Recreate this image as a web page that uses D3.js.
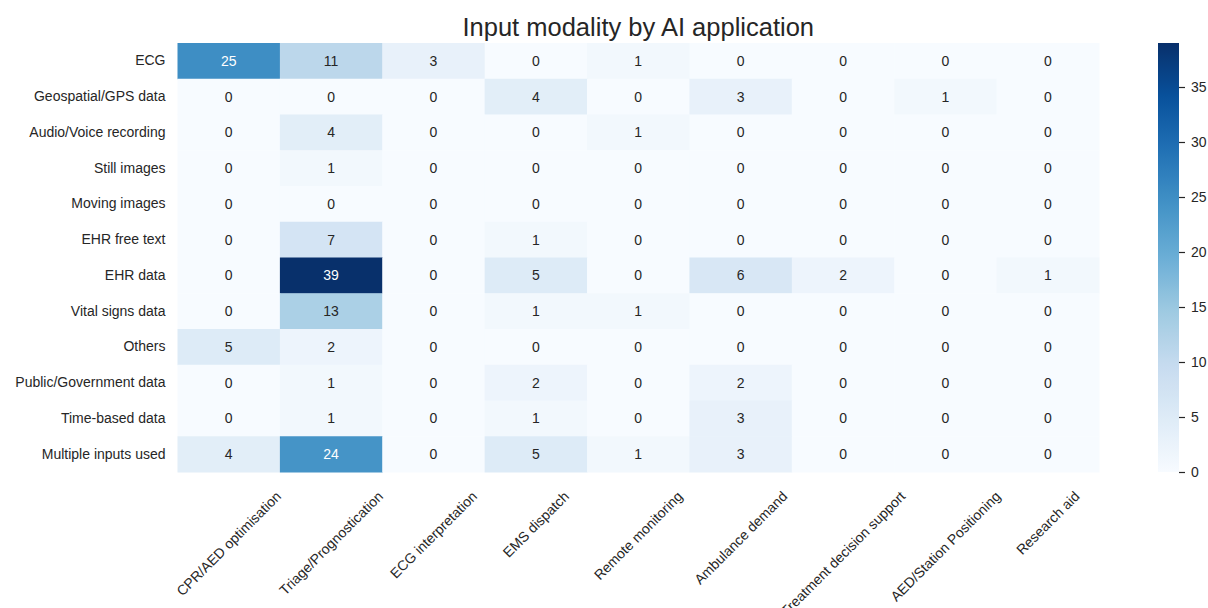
<!DOCTYPE html>
<html>
<head>
<meta charset="utf-8">
<script src="https://cdn.jsdelivr.net/npm/d3@7"></script>
<style>
  html, body { margin: 0; padding: 0; background: #ffffff; }
  svg text { font-family: "Liberation Sans", Arial, sans-serif; }
</style>
</head>
<body>
<svg id="chart" width="1208" height="608"></svg>
<script>
const title = "Input modality by AI application";
const applications = ["CPR/AED optimisation","Triage/Prognostication","ECG interpretation","EMS dispatch","Remote monitoring","Ambulance demand","Treatment decision support","AED/Station Positioning","Research aid"];
const modalities = ["ECG","Geospatial/GPS data","Audio/Voice recording","Still images","Moving images","EHR free text","EHR data","Vital signs data","Others","Public/Government data","Time-based data","Multiple inputs used"];
const rowECG        = [25,11,3,0,1,0,0,0,0];
const rowGeo        = [0,0,0,4,0,3,0,1,0];
const rowAudio      = [0,4,0,0,1,0,0,0,0];
const rowStill      = [0,1,0,0,0,0,0,0,0];
const rowMoving     = [0,0,0,0,0,0,0,0,0];
const rowEHRText    = [0,7,0,1,0,0,0,0,0];
const rowEHRData    = [0,39,0,5,0,6,2,0,1];
const rowVital      = [0,13,0,1,1,0,0,0,0];
const rowOthers     = [5,2,0,0,0,0,0,0,0];
const rowPublic     = [0,1,0,2,0,2,0,0,0];
const rowTime       = [0,1,0,1,0,3,0,0,0];
const rowMultiple   = [4,24,0,5,1,3,0,0,0];
const colorbarTicks = [0,5,10,15,20,25,30,35];

const matrix = [rowECG,rowGeo,rowAudio,rowStill,rowMoving,rowEHRText,rowEHRData,rowVital,rowOthers,rowPublic,rowTime,rowMultiple];
const cells = [];
matrix.forEach((r,i)=>r.forEach((v,j)=>cells.push({row:modalities[i], col:applications[j], v})));

const svg = d3.select("#chart");
const mLeft = 177.5, mRight = 1099, mTop = 43, mBottom = 472;
const textColor = "#262626";
const fontSize = 14;

const x = d3.scaleBand().domain(applications).range([mLeft,mRight]);
const y = d3.scaleBand().domain(modalities).range([mTop,mBottom]);
const vmax = d3.max(cells, d=>d.v), vmin = d3.min(cells, d=>d.v);
const blues = ["#f7fbff","#deebf7","#c6dbef","#9ecae1","#6baed6","#4292c6","#2171b5","#08519c","#08306b"];
const interp = d3.piecewise(d3.interpolateRgb, blues);
const color = v => interp((v - vmin)/(vmax - vmin));

function lum(c){
  const rgb = d3.rgb(c);
  const f = u => { u/=255; return u <= 0.03928 ? u/12.92 : Math.pow((u+0.055)/1.055, 2.4); };
  return 0.2126*f(rgb.r)+0.7152*f(rgb.g)+0.0722*f(rgb.b);
}

// cells
svg.append("g").selectAll("rect").data(cells).join("rect")
  .attr("x", d=>x(d.col)).attr("y", d=>y(d.row))
  .attr("width", x.bandwidth()+0.5).attr("height", y.bandwidth()+0.5)
  .attr("fill", d=>color(d.v));

svg.append("g").selectAll("text").data(cells).join("text")
  .attr("x", d=>x(d.col)+x.bandwidth()/2).attr("y", d=>y(d.row)+y.bandwidth()/2)
  .attr("text-anchor","middle").attr("dominant-baseline","central")
  .attr("font-size", fontSize)
  .attr("fill", d=> lum(color(d.v)) > 0.408 ? textColor : "#ffffff")
  .text(d=>d.v);

// y axis labels
const yAxis = d3.axisLeft(y).tickSize(0).tickPadding(12);
const gy = svg.append("g").attr("transform",`translate(${mLeft},0)`).call(yAxis);
gy.select(".domain").remove();
gy.selectAll("text").attr("font-size", fontSize).attr("fill", textColor).attr("font-family","Liberation Sans, Arial, sans-serif");

// x axis labels, rotated 45, bbox centered on tick
const xAxis = d3.axisBottom(x).tickSize(0);
const gx = svg.append("g").attr("transform",`translate(0,${mBottom})`).call(xAxis);
gx.select(".domain").remove();
const s = Math.SQRT1_2;
gx.selectAll(".tick text")
  .attr("font-size", fontSize).attr("fill", textColor).attr("font-family","Liberation Sans, Arial, sans-serif")
  .attr("dy", null).attr("y", 0)
  .attr("text-anchor","middle").attr("dominant-baseline","central")
  .each(function(){
    const w = this.getComputedTextLength();
    const h = fontSize*1.15;
    const c = 16 + (w*s + h*s)/2;
    d3.select(this).attr("transform", `translate(0,${c}) rotate(-45)`);
  });

// title
svg.append("text").attr("x",(mLeft+mRight)/2).attr("y",36)
  .attr("text-anchor","middle").attr("font-size",25.5).attr("fill",textColor).text(title);

// colorbar
const cbx = 1158, cbw = 21;
const cScale = d3.scaleLinear().domain([vmin,vmax]).range([mBottom,mTop]);
const defs = svg.append("defs");
const grad = defs.append("linearGradient").attr("id","cbgrad").attr("x1",0).attr("y1",1).attr("x2",0).attr("y2",0);
d3.range(0,1.0001,0.02).forEach(t=>grad.append("stop").attr("offset",t).attr("stop-color",interp(t)));
svg.append("rect").attr("x",cbx).attr("y",mTop).attr("width",cbw).attr("height",mBottom-mTop).attr("fill","url(#cbgrad)");
const cAxis = d3.axisRight(cScale).tickValues(colorbarTicks).tickSize(6).tickPadding(6);
const gc = svg.append("g").attr("transform",`translate(${cbx+cbw},0)`).call(cAxis);
gc.select(".domain").remove();
gc.selectAll("line").attr("stroke",textColor).attr("stroke-width",1.2);
gc.selectAll("text").attr("font-size",14).attr("fill",textColor).attr("font-family","Liberation Sans, Arial, sans-serif");
</script>
</body>
</html>
